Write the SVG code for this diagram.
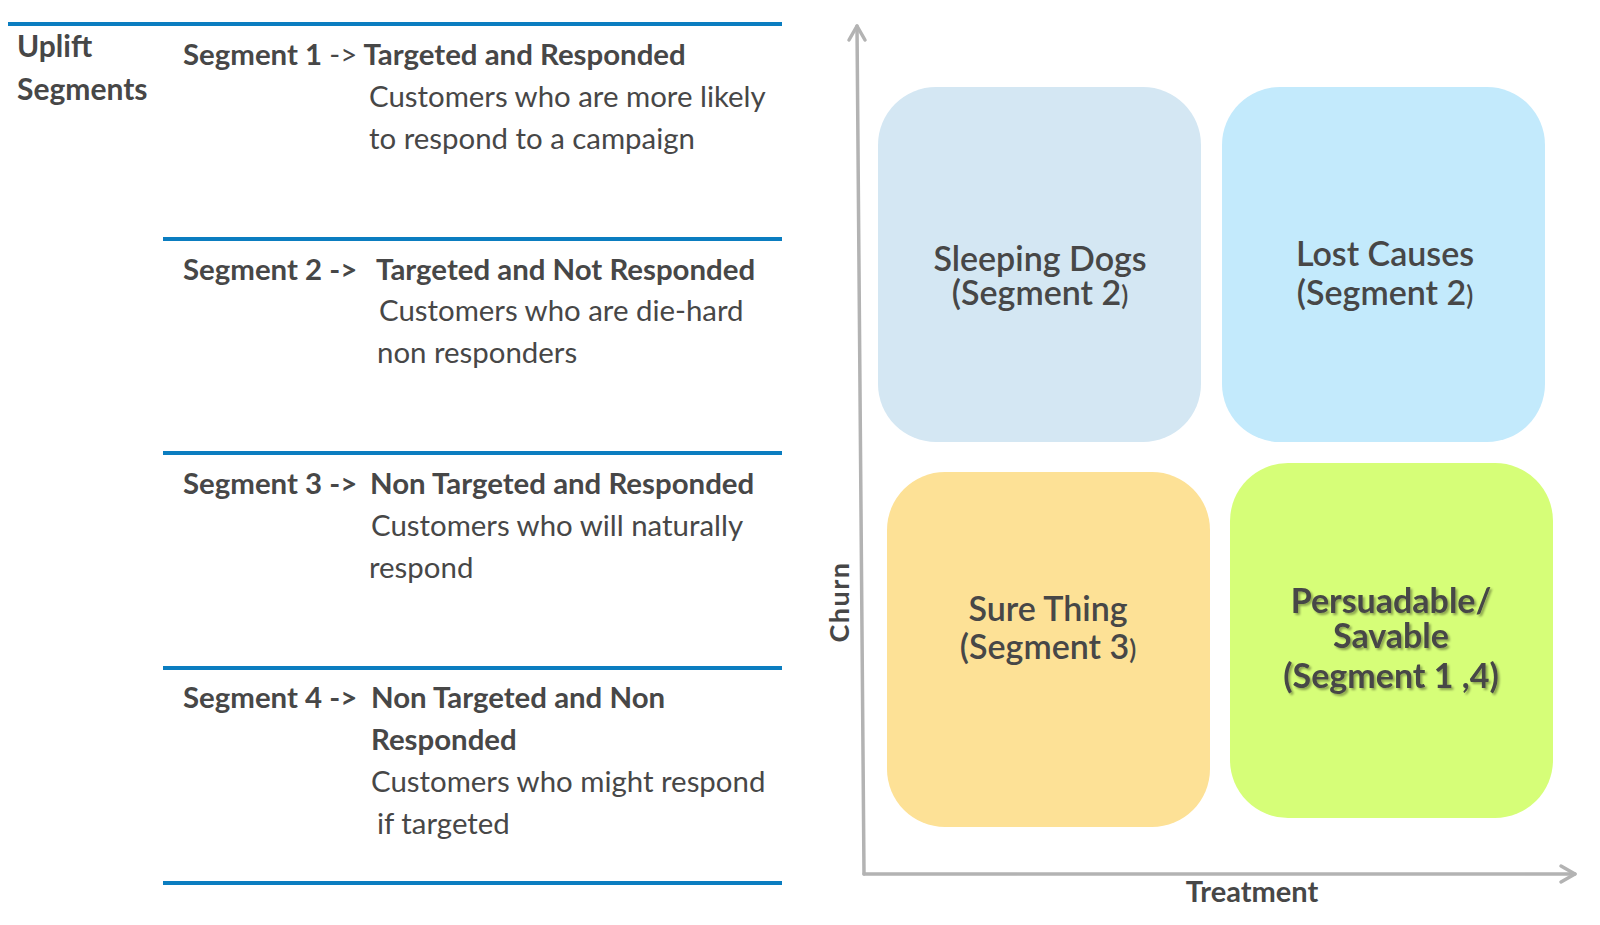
<svg xmlns="http://www.w3.org/2000/svg" width="1600" height="925" viewBox="0 0 1600 925">
<style>
text{font-family:Lato,"Open Sans","Liberation Sans",sans-serif;fill:#474747}
.h{font-size:29.4px;font-weight:700}
.r{font-weight:400}
.d{font-size:29.4px;font-weight:400}
.q{font-size:34px;font-weight:600;text-anchor:middle}
.sep{stroke:#0b7dc0;stroke-width:4}
.ax{stroke:#b3b3b3;stroke-width:3.5;fill:none;stroke-linecap:round;stroke-linejoin:round}
</style>
<defs>
<filter id="sh" x="-10%" y="-10%" width="130%" height="130%">
<feDropShadow dx="2" dy="2" stdDeviation="1" flood-color="#000" flood-opacity="0.35"/>
</filter>
</defs>
<rect width="1600" height="925" fill="#fff"/>
<g id="separators">
<line class="sep" x1="8" y1="24" x2="782" y2="24"/>
<line class="sep" x1="163" y1="239" x2="782" y2="239"/>
<line class="sep" x1="163" y1="453" x2="782" y2="453"/>
<line class="sep" x1="163" y1="668" x2="782" y2="668"/>
<line class="sep" x1="163" y1="883" x2="782" y2="883"/>
</g>
<g id="title">
<text x="17" y="57" style="font-size:30px;font-weight:700">Uplift</text>
<text x="17" y="100" style="font-size:30px;font-weight:700">Segments</text>
</g>
<g id="segment1">
<text class="h" x="183" y="65">Segment 1 <tspan class="r">-&gt;</tspan> Targeted and Responded</text>
<text class="d" x="369" y="107">Customers who are more likely</text>
<text class="d" x="369" y="149">to respond to a campaign</text>
</g>
<g id="segment2">
<text class="h" x="183" y="280">Segment 2 -&gt;</text>
<text class="h" x="376" y="280">Targeted and Not Responded</text>
<text class="d" x="379" y="321">Customers who are die-hard</text>
<text class="d" x="377" y="363">non responders</text>
</g>
<g id="segment3">
<text class="h" x="183" y="494">Segment 3 -&gt;</text>
<text class="h" x="370" y="494">Non Targeted and Responded</text>
<text class="d" x="371" y="536">Customers who will naturally</text>
<text class="d" x="369" y="578">respond</text>
</g>
<g id="segment4">
<text class="h" x="183" y="708">Segment 4 -&gt;</text>
<text class="h" x="371" y="708">Non Targeted and Non</text>
<text class="h" x="371" y="750">Responded</text>
<text class="d" x="371" y="792">Customers who might respond</text>
<text class="d" x="377" y="834">if targeted</text>
</g>
<g id="connectors">
<path class="ax" d="M864 874 L857 26"/>
<path class="ax" d="M849 40 L857 26 L865 40"/>
<path class="ax" d="M864 874 L1575 874"/>
<path class="ax" d="M1561 866 L1575 874 L1561 882"/>
</g>
<g id="axis-labels">
<text x="0" y="0" transform="translate(849 602) rotate(-90)" style="font-size:27px;font-weight:700;text-anchor:middle;letter-spacing:1.5px">Churn</text>
<text x="1252" y="902" style="font-size:29px;font-weight:700;text-anchor:middle">Treatment</text>
</g>
<g id="sleeping-dogs">
<rect x="878" y="87" width="323" height="355" rx="58" ry="58" fill="#d4e7f3"/>
<text class="q" x="1040" y="271">Sleeping Dogs</text>
<text class="q" x="1040" y="305">(Segment 2<tspan style="font-size:26px">)</tspan></text>
</g>
<g id="lost-causes">
<rect x="1222" y="87" width="323" height="355" rx="58" ry="58" fill="#c3eafc"/>
<text class="q" x="1385" y="266">Lost Causes</text>
<text class="q" x="1385" y="305">(Segment 2<tspan style="font-size:26px">)</tspan></text>
</g>
<g id="sure-thing">
<rect x="887" y="472" width="323" height="355" rx="58" ry="58" fill="#fde196"/>
<text class="q" x="1048" y="621">Sure Thing</text>
<text class="q" x="1048" y="659">(Segment 3<tspan style="font-size:26px">)</tspan></text>
</g>
<g id="persuadable">
<rect x="1230" y="463" width="323" height="355" rx="58" ry="58" fill="#d6fe78"/>
<g filter="url(#sh)">
<text class="q" x="1391" y="613" style="font-weight:700">Persuadable/</text>
<text class="q" x="1391" y="648" style="font-weight:700">Savable</text>
<text class="q" x="1391" y="688" style="font-weight:700">(Segment 1 ,4)</text>
</g>
</g>
</svg>
